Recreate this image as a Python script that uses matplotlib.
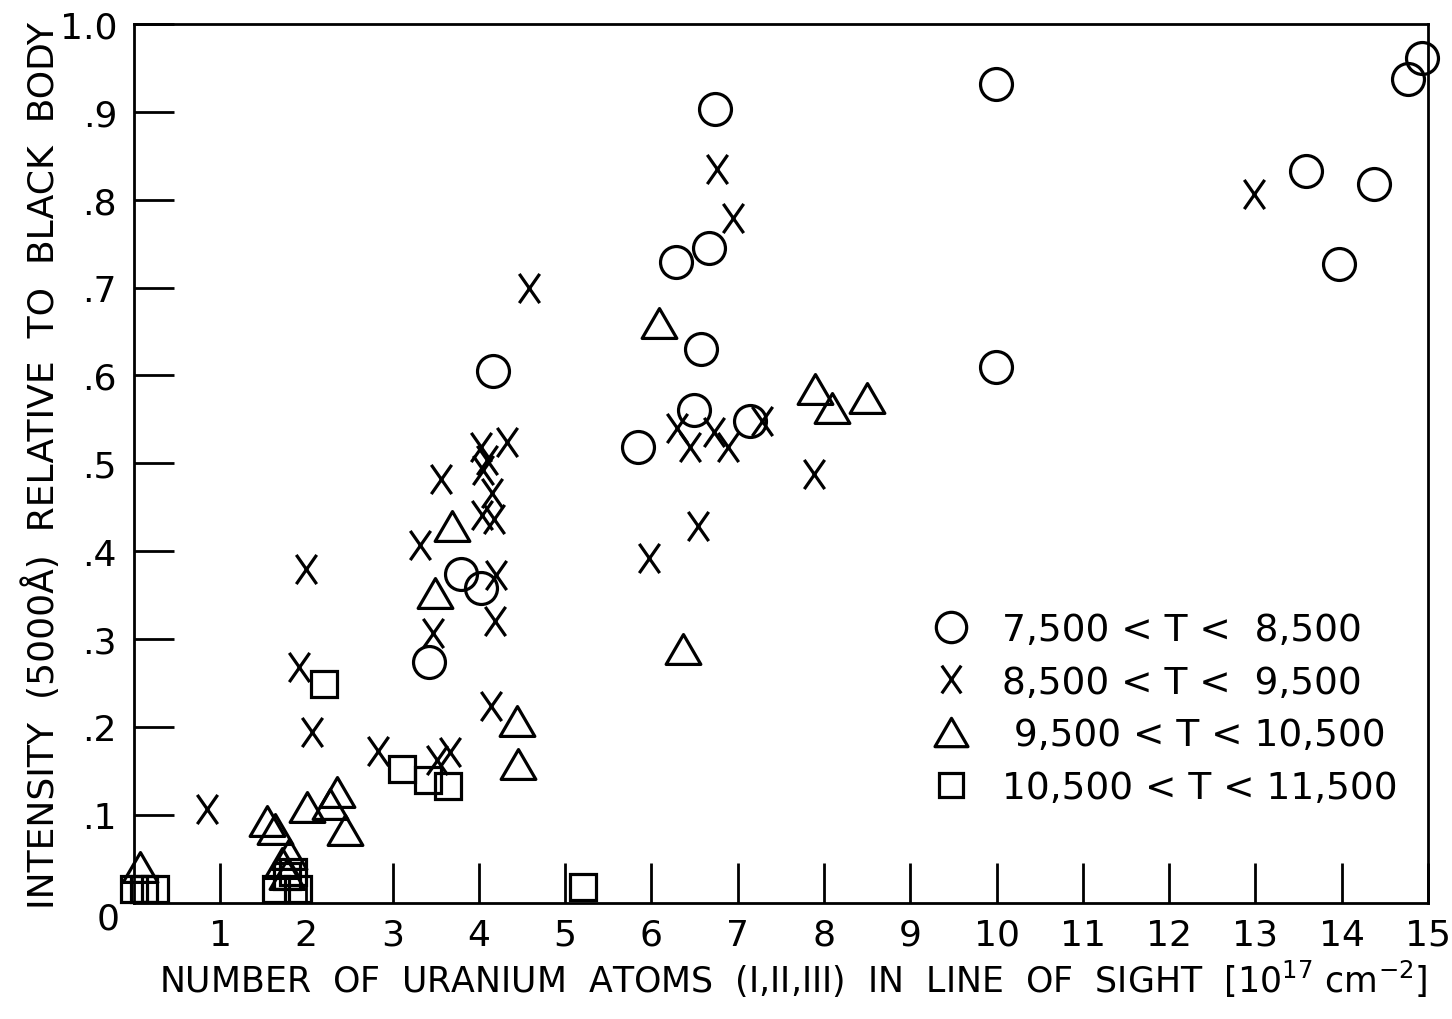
import numpy as np
import matplotlib
matplotlib.use("Agg")
import matplotlib.pyplot as plt
from matplotlib.path import Path

# uranium atoms in line of sight [1e17 cm^-2] vs intensity relative to black body
circ_x = [3.42, 3.79, 4.02, 4.16, 5.84, 6.29, 6.49, 6.57, 6.67, 6.74, 7.14,
          9.99, 9.99, 13.59, 13.97, 14.37, 14.77, 14.93]
circ_y = [0.274, 0.374, 0.358, 0.605, 0.518, 0.729, 0.561, 0.630, 0.745, 0.903, 0.548,
          0.932, 0.610, 0.833, 0.727, 0.818, 0.937, 0.961]

cross_x = [0.85, 1.91, 2.00, 2.07, 2.83, 3.32, 3.47, 3.51, 3.56, 3.67, 4.03, 4.09,
           4.05, 4.15, 4.04, 4.17, 4.33, 4.20, 4.19, 4.14, 4.58, 5.97, 6.30, 6.45,
           6.54, 6.72, 6.89, 6.76, 6.94, 7.28, 7.88, 12.98]
cross_y = [0.107, 0.268, 0.380, 0.194, 0.172, 0.407, 0.307, 0.162, 0.482, 0.171, 0.519, 0.504,
           0.492, 0.466, 0.441, 0.436, 0.524, 0.373, 0.320, 0.224, 0.699, 0.392, 0.540, 0.519,
           0.429, 0.536, 0.519, 0.835, 0.779, 0.548, 0.488, 0.806]

tri_x = [0.07, 1.55, 1.64, 1.72, 1.80, 1.78, 2.01, 2.28, 2.36, 2.45, 3.49, 3.69,
         4.44, 4.45, 6.09, 6.37, 7.90, 8.09, 8.50]
tri_y = [0.040, 0.093, 0.084, 0.045, 0.055, 0.032, 0.109, 0.112, 0.126, 0.082, 0.352, 0.429,
         0.207, 0.158, 0.660, 0.289, 0.585, 0.563, 0.574]

sq_x = [0.00, 0.12, 0.25, 1.65, 1.90, 1.78, 1.85, 2.20, 3.11, 3.41, 3.64, 5.21]
sq_y = [0.015, 0.015, 0.015, 0.015, 0.015, 0.030, 0.035, 0.249, 0.152, 0.140, 0.133, 0.018]

labels = ["7,500 < T <  8,500", "8,500 < T <  9,500", " 9,500 < T < 10,500", "10,500 < T < 11,500"]

x_ticks = list(range(1, 16))
y_ticks = [0.1, 0.2, 0.3, 0.4, 0.5, 0.6, 0.7, 0.8, 0.9, 1.0]
y_ticklabels = [".1", ".2", ".3", ".4", ".5", ".6", ".7", ".8", ".9", "1.0"]

plt.rcParams['font.family'] = ['DejaVu Sans']

# hand-drawn style markers: tall X and a wide triangle
cross = Path([(-0.7, -1), (0.7, 1), (-0.7, 1), (0.7, -1)],
             [Path.MOVETO, Path.LINETO, Path.MOVETO, Path.LINETO])
tri = Path([(-1, -0.86), (1, -0.86), (0, 0.86), (-1, -0.86)],
           [Path.MOVETO, Path.LINETO, Path.LINETO, Path.CLOSEPOLY])

fig = plt.figure(figsize=(14.52, 10.20), dpi=100)
ax = fig.add_axes([0.0921, 0.1142, 0.8914, 0.8613])

style = dict(linestyle='none', mfc='none', mec='black', mew=2.3, clip_on=False)
h1, = ax.plot(circ_x, circ_y, marker='o', ms=23, **style)
h2, = ax.plot(cross_x, cross_y, marker=cross, ms=21, **style)
h3, = ax.plot(tri_x, tri_y, marker=tri, ms=25, **style)
h4, = ax.plot(sq_x, sq_y, marker='s', ms=18.5, **style)

ax.set_xlim(0, 15)
ax.set_ylim(0, 1.0)
ax.set_xticks(x_ticks)
ax.set_xticklabels([str(t) for t in x_ticks])
ax.set_yticks(y_ticks)
ax.set_yticklabels(y_ticklabels)
ax.tick_params(direction='in', length=29, width=2, labelsize=26, pad=12)
ax.tick_params(axis='x', pad=11)
ax.tick_params(top=False, right=False)
for s in ax.spines.values():
    s.set_linewidth(2)

# shared origin label
ax.text(-0.011, -0.018, "0", transform=ax.transAxes, ha='right', va='center', fontsize=26)

fig.text(0.546, 0.040,
         "NUMBER  OF  URANIUM  ATOMS  (I,II,III)  IN  LINE  OF  SIGHT  $[10^{17}$ cm$^{-2}]$",
         ha='center', va='center', fontsize=25)
fig.text(0.029, 0.544, "INTENSITY  (5000Å)  RELATIVE  TO  BLACK  BODY", rotation=90,
         ha='center', va='center', fontsize=26)

ax.legend([h1, h2, h3, h4], labels, loc='upper left', bbox_to_anchor=(0.617, 0.331),
          frameon=False, fontsize=27, handlelength=1.0, handletextpad=0.85,
          labelspacing=0.45, borderaxespad=0, borderpad=0, markerscale=0.95)

fig.savefig("out.png", dpi=100)
